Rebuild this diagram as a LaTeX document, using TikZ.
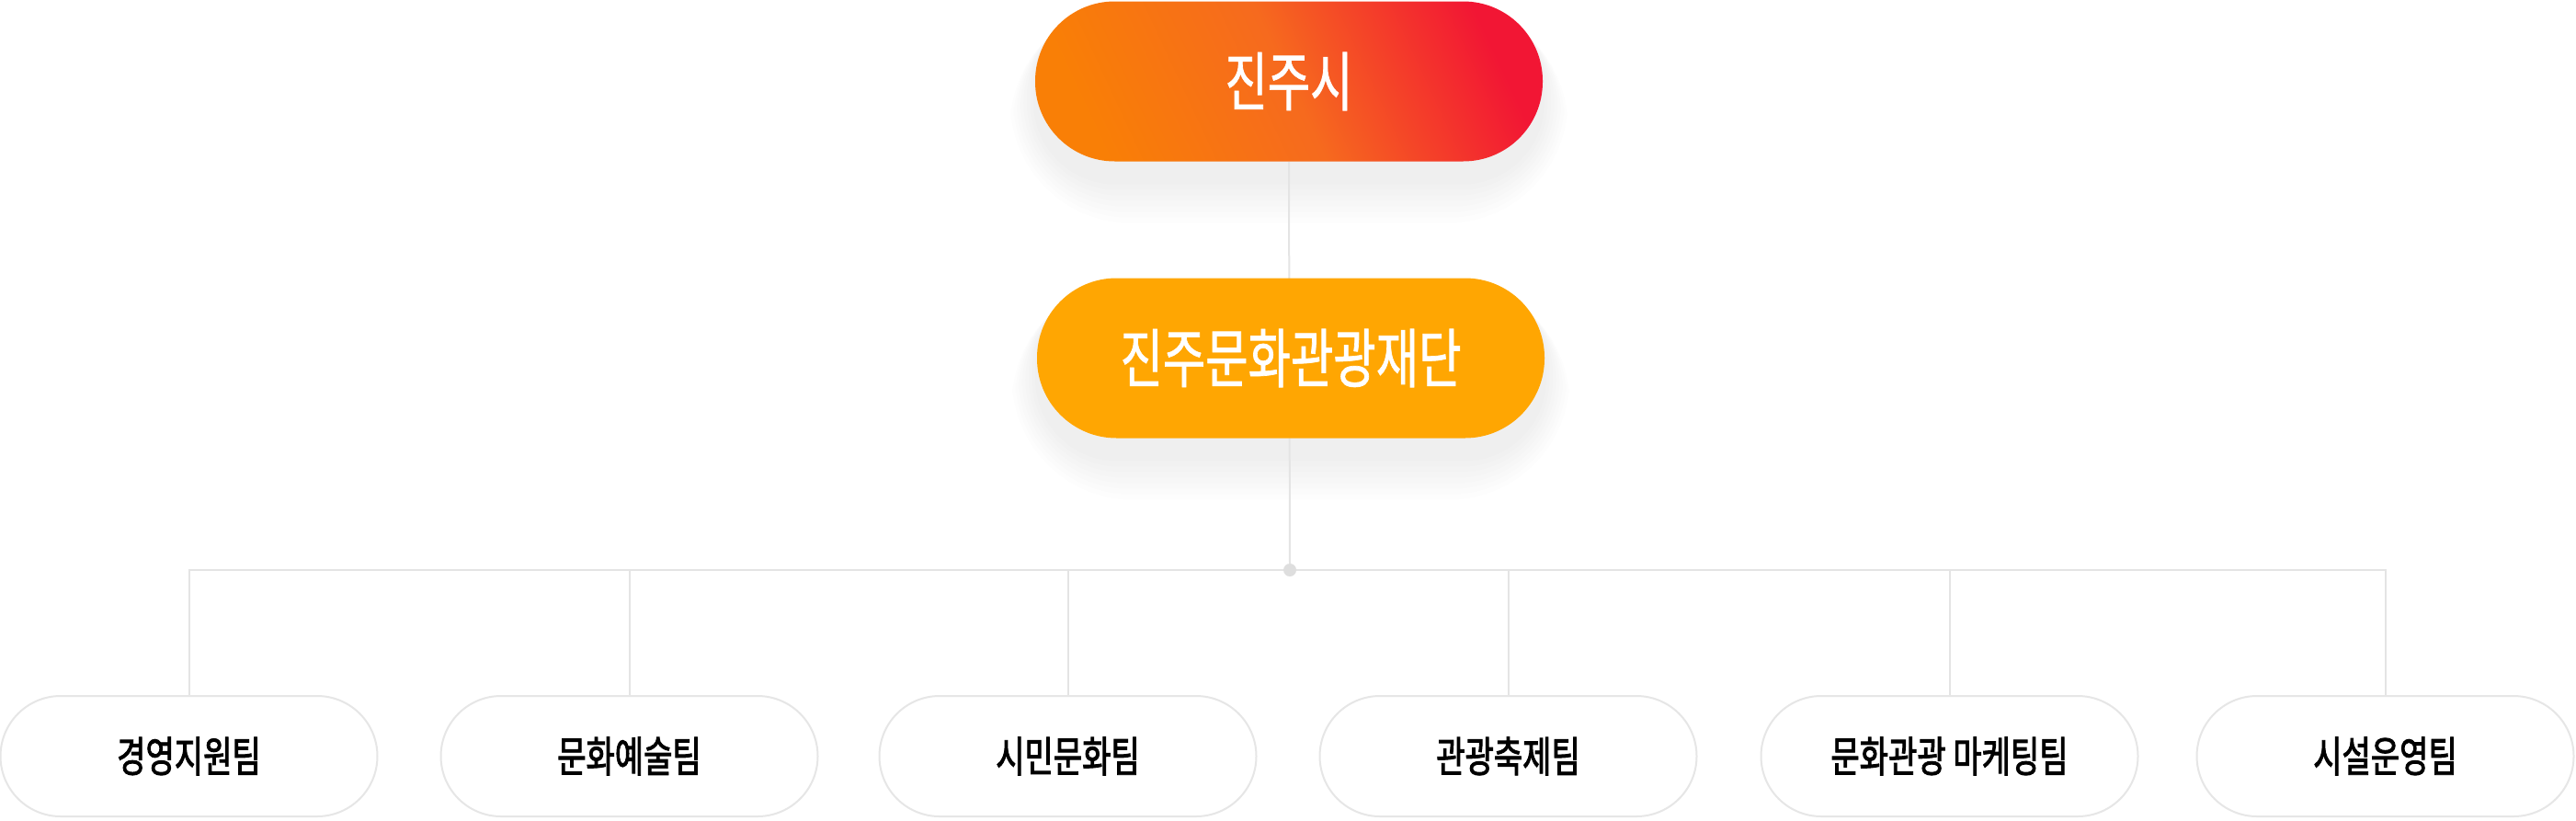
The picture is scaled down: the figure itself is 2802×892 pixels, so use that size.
\documentclass[tikz,border=0pt]{standalone}
\usepackage{fontspec}
\setmainfont{Noto Sans CJK KR}
\newfontfamily\krfont[FakeStretch=0.72,FakeBold=1]{Noto Sans CJK KR}
\newfontfamily\teamfont[FakeStretch=0.74,FakeBold=2]{Noto Sans CJK KR}
\usetikzlibrary{backgrounds}

\definecolor{cityorange}{HTML}{F97F06}
\definecolor{citymid}{HTML}{F66A1E}
\definecolor{cityred}{HTML}{F21634}
\definecolor{foundation}{HTML}{FFA602}
\definecolor{linkgray}{HTML}{E4E4E4}
\definecolor{teamline}{HTML}{E6E6E6}
\definecolor{hubgray}{HTML}{DEDEDE}

\tikzset{
  pill/.style={rounded corners=86.5pt, minimum width=552pt, minimum height=174pt,
    text=white, inner sep=0pt, font=\krfont\fontsize{70}{80}\selectfont},
  team/.style={draw=teamline, line width=2pt, fill=white, rounded corners=65.5pt,
    minimum width=410pt, minimum height=131pt, inner sep=0pt,
    font=\teamfont\fontsize{46}{54}\selectfont},
  link/.style={draw=linkgray, line width=2pt}
}

\begin{document}
\begin{tikzpicture}[x=1pt,y=-1pt]
\useasboundingbox (0,0) rectangle (2802,892);

% City
\node[pill, left color=cityorange, right color=cityred, middle color=citymid,
      shading angle=115] (city) at (1402,88.5) {진주시};

% Foundation
\node[pill, fill=foundation] (found) at (1404,389.5) {진주문화관광재단};

% Hub
\coordinate (hub) at (1403,620);

% Teams
\foreach \x/\lbl/\nm in {205.5/경영지원팀/t1, 684.5/문화예술팀/t2, 1161.5/시민문화팀/t3,
    1640.5/관광축제팀/t4, 2120.5/문화관광 마케팅팀/t5, 2594.5/시설운영팀/t6}{
    \node[team] (\nm) at (\x,822.5) {\lbl};
}

\begin{scope}[on background layer]
% Shadows
\foreach \s in {3,9,...,45}{
    \fill[black, opacity=0.007, rounded corners=86.5+\s]
      ([xshift=-0.6*\s, yshift=-22-\s]city.south west) rectangle ([xshift=0.6*\s, yshift=-4]city.north east);
    \fill[black, opacity=0.007, rounded corners=86.5+\s]
      ([xshift=-0.6*\s, yshift=-22-\s]found.south west) rectangle ([xshift=0.6*\s, yshift=-4]found.north east);
}

% Links
\draw[link] (city.south) -- (hub);
\foreach \nm in {t1,t2,t3,t4,t5,t6}{
    \draw[link] (hub) -| (\nm.north);
}
\end{scope}

\fill[hubgray] (hub) circle (7);

\end{tikzpicture}
\end{document}
